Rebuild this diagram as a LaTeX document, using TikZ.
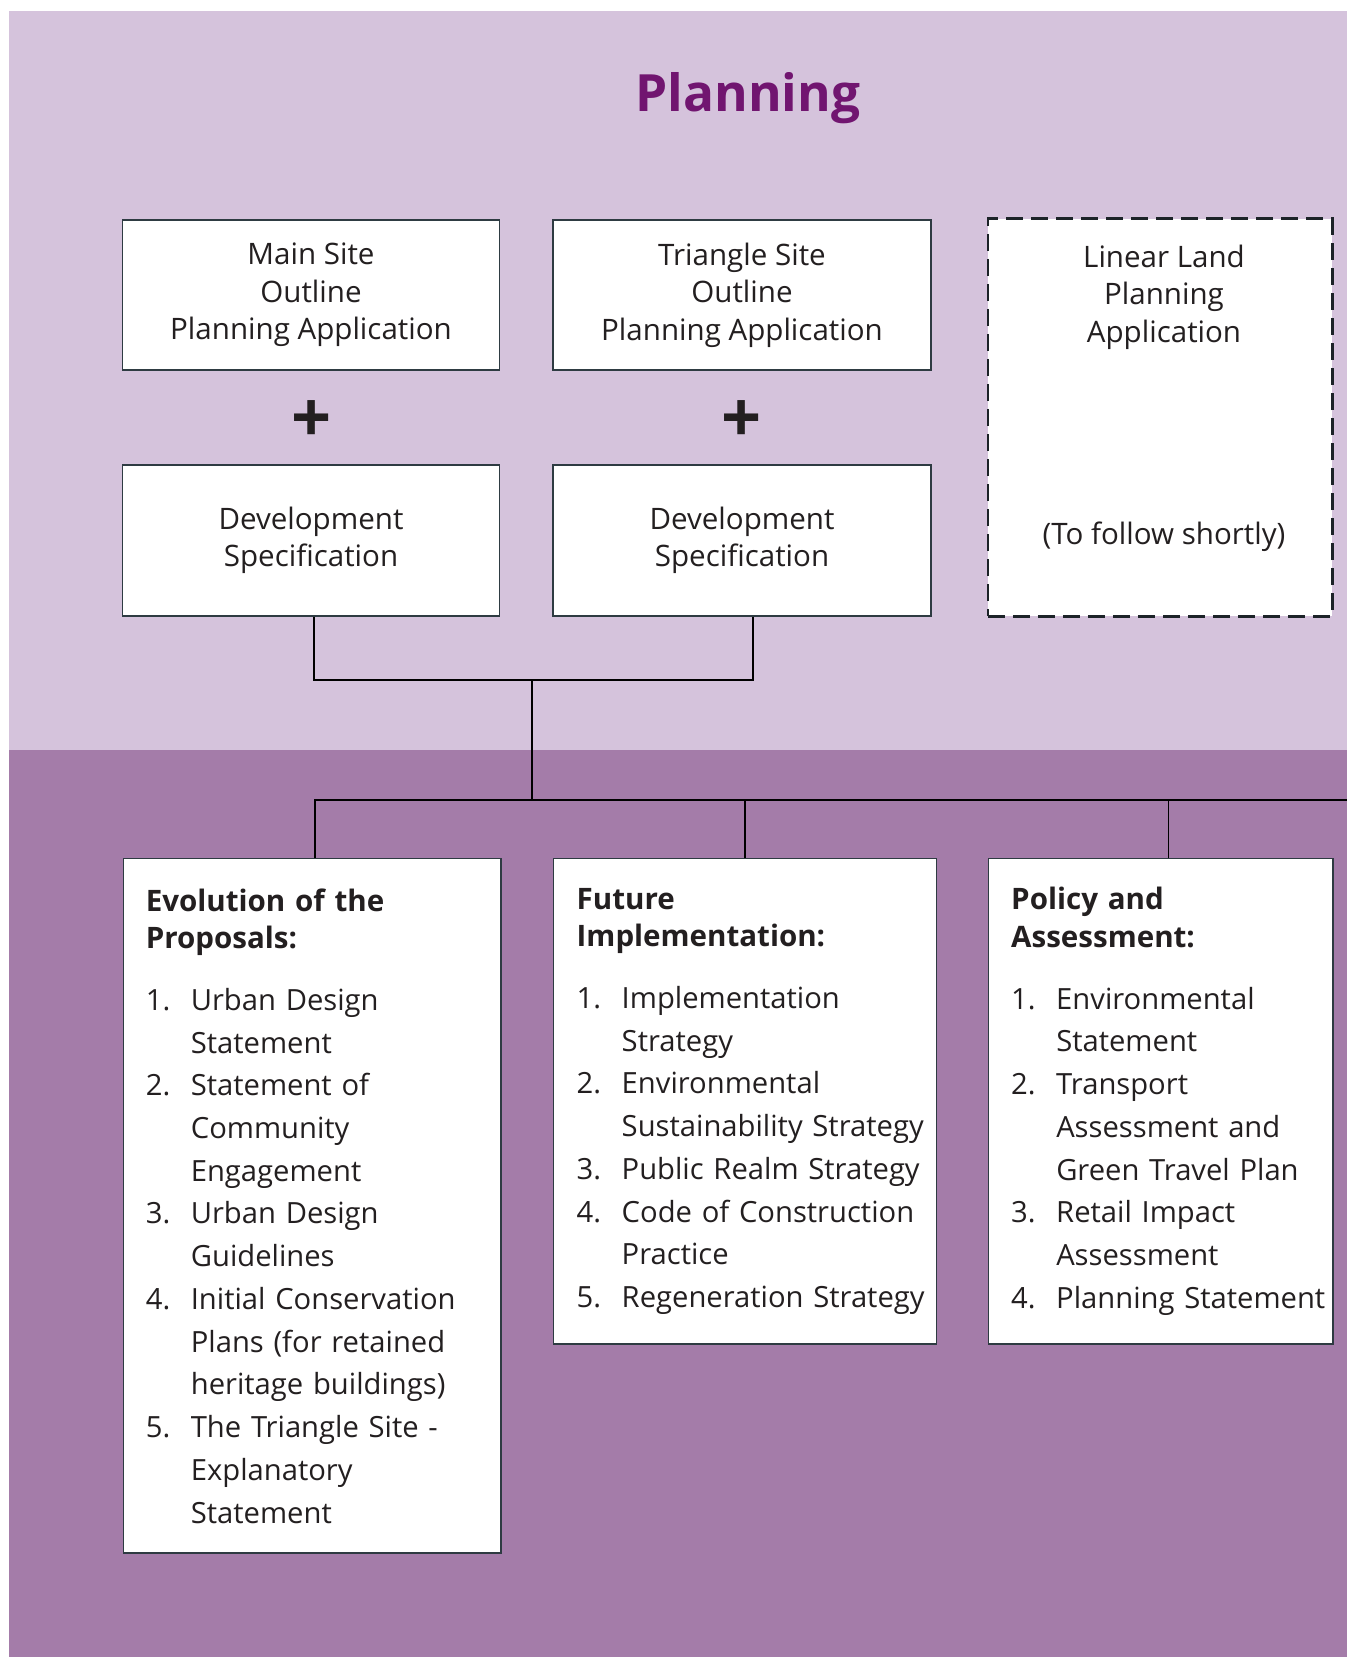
\documentclass[tikz,border=0pt]{standalone}
\usepackage{fontspec}
\setmainfont{Open Sans}
\definecolor{lilac}{HTML}{D5C3DC}
\definecolor{mauve}{HTML}{A47CA9}
\definecolor{plum}{HTML}{711570}
\definecolor{frame}{HTML}{2E3B42}
\definecolor{ink}{HTML}{231F20}
% voce di elenco numerata
\newcommand{\itm}[2]{\par\noindent\hangindent=0.45cm\hangafter=1\makebox[0.45cm][l]{#1}#2}
\newcommand{\hd}[1]{{\bfseries\fontsize{8.4}{10.67}\selectfont #1\par}\vspace{0.19cm}}
\tikzset{
  appbox/.style={draw=frame, fill=white, line width=0.4pt, text=ink, align=center, inner sep=0pt,
    font=\fontsize{8.4}{10.67}\selectfont},
  listbox/.style={draw=frame, fill=white, line width=0.4pt, text=ink, align=left, anchor=north west,
    inner xsep=0pt, inner ysep=0pt, font=\fontsize{8.3}{12.15}\selectfont},
  link/.style={draw=black, line width=0.45pt}
}
\begin{document}
\begin{tikzpicture}[x=0.01cm,y=-0.01cm]
  \useasboundingbox (0,0) rectangle (1353,1657);
  %sfondo
  \fill[lilac] (9,11) rectangle (1347,750);
  \fill[mauve] (9,750) rectangle (1347,1657);
  %titolo
  \node[anchor=base, text=plum, font=\bfseries\fontsize{14.6}{18}\selectfont] (title) at (748,111) {Planning};
  %domande
  \node[appbox, minimum width=3.77cm, minimum height=1.5cm] (main) at (311,295) {Main Site\\Outline\\Planning Application};
  \node[appbox, minimum width=3.78cm, minimum height=1.5cm] (tri) at (742,295) {Triangle Site\\Outline\\Planning Application};
  \node[appbox, draw=frame!60!black, line width=0.8pt, dash pattern=on 0.17cm off 0.08cm,
    minimum width=3.44cm, minimum height=3.97cm] (linear) at (1160,417.5) {};
  \node[text=ink, align=center, font=\fontsize{8.4}{10.67}\selectfont] (lintext) at (1164,398)
    {Linear Land\\Planning\\Application\\[1.64cm](To follow shortly)};
  \node[text=ink, font=\bfseries\fontsize{20}{20}\selectfont] (plus1) at (312,422) {+};
  \node[text=ink, font=\bfseries\fontsize{20}{20}\selectfont] (plus2) at (742,422) {+};
  \node[appbox, minimum width=3.77cm, minimum height=1.51cm] (dev1) at (311,540.5) {Development\\Specification};
  \node[appbox, minimum width=3.78cm, minimum height=1.51cm] (dev2) at (742,540.5) {Development\\Specification};
  %collegamenti
  \coordinate (hub) at (532,680);
  \coordinate (fork) at (532,800);
  \coordinate (railend) at (1347,800);
  %documenti
  \node[listbox, text width=3.774cm, minimum height=6.94cm] (evo) at (122.6,858) {\leftskip=0.225cm
    \hd{Evolution of the\\Proposals:}
    \itm{1.}{Urban Design\newline Statement}
    \itm{2.}{Statement of\newline Community\newline Engagement}
    \itm{3.}{Urban Design\newline Guidelines}
    \itm{4.}{Initial Conservation\newline Plans (for retained\newline heritage buildings)}
    \itm{5.}{The Triangle Site -\newline Explanatory\newline Statement}\par};
  \node[listbox, text width=3.825cm, minimum height=4.85cm] (fut) at (553,858) {\leftskip=0.23cm
    \hd{Future\\Implementation:}
    \itm{1.}{Implementation\newline Strategy}
    \itm{2.}{Environmental\newline Sustainability Strategy}
    \itm{3.}{Public Realm Strategy}
    \itm{4.}{Code of Construction\newline Practice}
    \itm{5.}{Regeneration Strategy}\par};
  \node[listbox, text width=3.445cm, minimum height=4.85cm] (pol) at (987.5,858) {\leftskip=0.23cm
    \hd{Policy and\\Assessment:}
    \itm{1.}{Environmental\newline Statement}
    \itm{2.}{Transport\newline Assessment and\newline Green Travel Plan}
    \itm{3.}{Retail Impact\newline Assessment}
    \itm{4.}{Planning Statement}\par};
  \draw[link] ([xshift=0.03cm]dev1.south) |- (hub);
  \draw[link] ([xshift=0.107cm]dev2.south) |- (hub);
  \draw[link] (hub) -- (fork);
  \draw[link] ([xshift=0.03cm]evo.north) |- (railend);
  \draw[link] (fut.north) -- (fut.north |- railend);
  \draw[link] ([xshift=0.08cm]pol.north) -- ([xshift=0.08cm]pol.north |- railend);
\end{tikzpicture}
\end{document}
